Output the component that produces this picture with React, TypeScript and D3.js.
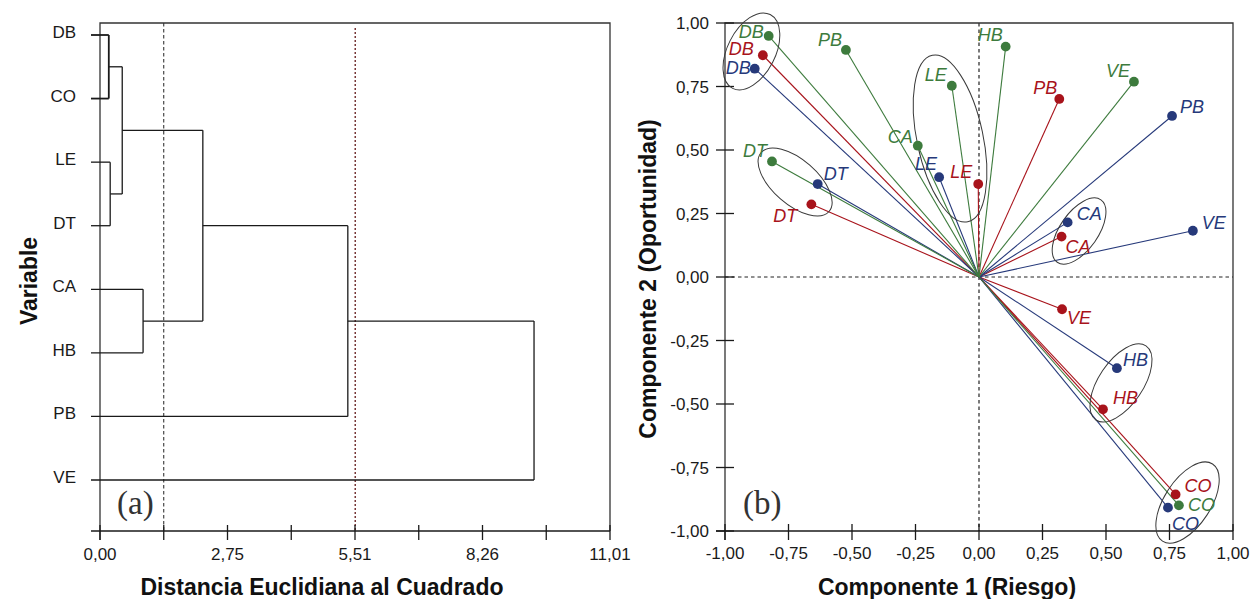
import React from "react";
import * as d3 from "d3";

// ---- (a) dendrogram data ----
const leaves = ["DB", "CO", "LE", "DT", "CA", "HB", "PB", "VE"];
// linkage rows: [childA, childB, height]; numbers point to earlier rows
const merges: [string | number, string | number, number][] = [
  ["DB", "CO", 0.19],
  ["LE", "DT", 0.22],
  [0, 1, 0.48],
  ["CA", "HB", 0.93],
  [2, 3, 2.22],
  [4, "PB", 5.35],
  [5, "VE", 9.37],
];
const distMax = 11.01;
const distLabels = ["0,00", "2,75", "5,51", "8,26", "11,01"];
const cutBlack = 11.01 / 8;
const cutRed = 5.51;

// ---- (b) loadings, in the order of `variables` ----
const variables = ["DB", "CO", "LE", "DT", "CA", "HB", "PB", "VE"];
const greenC1 = [-0.828, 0.787, -0.107, -0.815, -0.241, 0.105, -0.524, 0.61];
const greenC2 = [0.949, -0.899, 0.753, 0.455, 0.517, 0.907, 0.894, 0.769];
const redC1 = [-0.851, 0.774, -0.003, -0.66, 0.325, 0.488, 0.316, 0.327];
const redC2 = [0.873, -0.856, 0.366, 0.286, 0.159, -0.521, 0.701, -0.127];
const blueC1 = [-0.883, 0.744, -0.157, -0.635, 0.349, 0.543, 0.76, 0.842];
const blueC2 = [0.82, -0.908, 0.393, 0.366, 0.215, -0.359, 0.634, 0.182];
const compTicks = [-1, -0.75, -0.5, -0.25, 0, 0.25, 0.5, 0.75, 1];

// hand drawn group ellipses (data units): cx, cy, semi-axes, rotation
const groups = [
  { cx: -0.896, cy: 0.888, a: 0.163, b: 0.094, rot: -63 },
  { cx: -0.114, cy: 0.545, a: 0.335, b: 0.13, rot: 78 },
  { cx: -0.724, cy: 0.374, a: 0.177, b: 0.088, rot: 41 },
  { cx: 0.394, cy: 0.181, a: 0.15, b: 0.075, rot: -55 },
  { cx: 0.559, cy: -0.417, a: 0.176, b: 0.087, rot: -56 },
  { cx: 0.821, cy: -0.888, a: 0.181, b: 0.091, rot: -57 },
];

const GREEN = "#3d7b3d";
const RED = "#a8131b";
const BLUE = "#26397a";

// label offsets in px: dx<0 -> text ends left of the dot, dy = text centre
const labelPos: Record<string, [number, number]> = {
  "g:DB": [-5, -4], "r:DB": [-9, -6], "b:DB": [-4, -1],
  "g:PB": [-4, -10], "g:LE": [-5, -11], "g:CA": [-5, -9],
  "b:LE": [-2, -13], "r:LE": [-6, -12], "g:DT": [-5, -10],
  "b:DT": [6, -10], "r:DT": [-14, 12], "g:HB": [-3, -12],
  "g:VE": [-4, -11], "r:PB": [-2, -11], "b:PB": [8, -9],
  "b:CA": [9, -8], "r:CA": [4, 10], "b:VE": [9, -8],
  "r:VE": [5, 9], "b:HB": [6, -8], "r:HB": [10, -11],
  "r:CO": [9, -8], "g:CO": [9, 0], "b:CO": [4, 16],
};

const SANS = "'Liberation Sans', Arial, sans-serif";
const SERIF = "'Liberation Serif', 'Times New Roman', serif";
const INK = "#1a1a1a";

const comma = (v: number) => d3.format(".2f")(v).replace(".", ",").replace("\u2212", "-");

const Dendrogram = () => {
  const x = d3.scaleLinear().domain([0, distMax]).range([100, 610]);
  const y = d3.scalePoint().domain(leaves).range([35, 480]);
  const top = 23, bottom = 531, stub = 91;

  const nodes: { x: number; y: number }[] = [];
  const segs: [number, number, number, number, number][] = [];
  const pos = (c: string | number) =>
    typeof c === "number" ? nodes[c] : { x: stub, y: y(c) as number };
  merges.forEach(([a, b, h], i) => {
    const pa = pos(a), pb = pos(b);
    const mx = x(h);
    const w = i === 0 ? 1.8 : 1.3;
    segs.push([pa.x, pa.y, mx, pa.y, w]);
    segs.push([pb.x, pb.y, mx, pb.y, w]);
    segs.push([mx, pa.y, mx, pb.y, w]);
    nodes.push({ x: mx, y: (pa.y + pb.y) / 2 });
  });

  const ticks = d3.range(9).map((i) => (i * distMax) / 8);

  return (
    <g>
      <line x1={x(cutBlack)} x2={x(cutBlack)} y1={top} y2={bottom} stroke="#222" strokeWidth={1} strokeDasharray="3.5,2.5" />
      <line x1={x(cutRed)} x2={x(cutRed)} y1={top + 5} y2={bottom} stroke="#6e2a2a" strokeWidth={1.4} strokeDasharray="2,2" />
      {/* frame */}
      <path d={`M${x(0)},${bottom + 9}V${top}H${x(distMax)}V${bottom}`} fill="none" stroke="#333" strokeWidth={1.3} />
      <line x1={stub} x2={x(distMax)} y1={bottom} y2={bottom} stroke={INK} strokeWidth={1.5} />
      {ticks.map((t, i) => (
        <line key={i} x1={x(t)} x2={x(t)} y1={bottom - 6} y2={bottom + 9} stroke={INK} strokeWidth={1.3} />
      ))}
      {distLabels.map((l, i) => (
        <text key={l} x={x(ticks[i * 2])} y={560} textAnchor="middle" fontFamily={SANS} fontSize={17} fill={INK}>{l}</text>
      ))}
      {segs.map((s, i) => (
        <line key={i} x1={s[0]} y1={s[1]} x2={s[2]} y2={s[3]} stroke={INK} strokeWidth={s[4]} />
      ))}
      {leaves.map((l) => (
        <text key={l} x={76} y={(y(l) as number) + 3} textAnchor="end" fontFamily={SANS} fontSize={17} fill={INK}>{l}</text>
      ))}
      <text x={117} y={514} fontFamily={SERIF} fontSize={33} fill="#333">(a)</text>
      <text x={322} y={595} textAnchor="middle" fontFamily={SANS} fontWeight="bold" fontSize={23} fill="#111">Distancia Euclidiana al Cuadrado</text>
      <text transform="translate(37,281) rotate(-90)" textAnchor="middle" fontFamily={SANS} fontWeight="bold" fontSize={23} fill="#111">Variable</text>
    </g>
  );
};

const Biplot = () => {
  const x = d3.scaleLinear().domain([-1, 1]).range([725, 1233]);
  const y = d3.scaleLinear().domain([-1, 1]).range([531, 23]);
  const ppu = x(1) - x(0);
  const series = [
    { key: "r", color: RED, c1: redC1, c2: redC2 },
    { key: "b", color: BLUE, c1: blueC1, c2: blueC2 },
    { key: "g", color: GREEN, c1: greenC1, c2: greenC2 },
  ];
  const pts = series.flatMap((s) =>
    variables.map((v, i) => ({ id: `${s.key}:${v}`, v, color: s.color, px: x(s.c1[i]), py: y(s.c2[i]) }))
  );

  return (
    <g>
      <line x1={x(-1)} x2={x(1)} y1={y(0)} y2={y(0)} stroke="#222" strokeWidth={1} strokeDasharray="3.5,3" />
      <line x1={x(0)} x2={x(0)} y1={y(1)} y2={y(-1)} stroke="#222" strokeWidth={1.2} strokeDasharray="3.5,3" />
      <path d={`M${x(-1)},${y(-1) + 9}V${y(1)}H${x(1)}V${y(-1)}`} fill="none" stroke="#333" strokeWidth={1.3} />
      <line x1={x(-1) - 9} x2={x(1)} y1={y(-1)} y2={y(-1)} stroke={INK} strokeWidth={1.5} />
      {compTicks.map((t) => (
        <g key={t}>
          <line x1={x(t)} x2={x(t)} y1={y(-1) - 7} y2={y(-1) + 9} stroke={INK} strokeWidth={1.3} />
          <text x={x(t)} y={559} textAnchor="middle" fontFamily={SANS} fontSize={17} fill={INK}>{comma(t)}</text>
          <line x1={x(-1) - 9} x2={x(-1) + 9} y1={y(t)} y2={y(t)} stroke={INK} strokeWidth={1.3} />
          <text x={709} y={y(t) + 6} textAnchor="end" fontFamily={SANS} fontSize={17} fill={INK}>{comma(t)}</text>
        </g>
      ))}
      {pts.map((p) => (
        <line key={"l" + p.id} x1={x(0)} y1={y(0)} x2={p.px} y2={p.py} stroke={p.color} strokeWidth={1.1} />
      ))}
      {groups.map((g, i) => (
        <ellipse key={i} cx={x(g.cx)} cy={y(g.cy)} rx={g.a * ppu} ry={g.b * ppu}
          transform={`rotate(${g.rot} ${x(g.cx)} ${y(g.cy)})`} fill="none" stroke="#3a3a3a" strokeWidth={1} />
      ))}
      {pts.map((p) => (
        <circle key={"c" + p.id} cx={p.px} cy={p.py} r={4.9} fill={p.color} />
      ))}
      {pts.map((p) => {
        const [dx, dy] = labelPos[p.id] || [6, -8];
        return (
          <text key={"t" + p.id} x={p.px + dx} y={p.py + dy + 6} textAnchor={dx < 0 ? "end" : "start"}
            fontFamily={SANS} fontStyle="italic" fontSize={18} fill={p.color}>{p.v}</text>
        );
      })}
      <text x={743} y={514} fontFamily={SERIF} fontSize={33} fill="#333">(b)</text>
      <text x={947} y={595} textAnchor="middle" fontFamily={SANS} fontWeight="bold" fontSize={23} fill="#111">Componente 1 (Riesgo)</text>
      <text transform="translate(656,279) rotate(-90)" textAnchor="middle" fontFamily={SANS} fontWeight="bold" fontSize={23} fill="#111">Componente 2 (Oportunidad)</text>
    </g>
  );
};

export default function App() {
  return (
    <svg width={1255} height={599} style={{ position: "absolute", left: 0, top: 0, background: "#fff" }}>
      <rect width={1255} height={599} fill="#fff" />
      <Dendrogram />
      <Biplot />
    </svg>
  );
}
